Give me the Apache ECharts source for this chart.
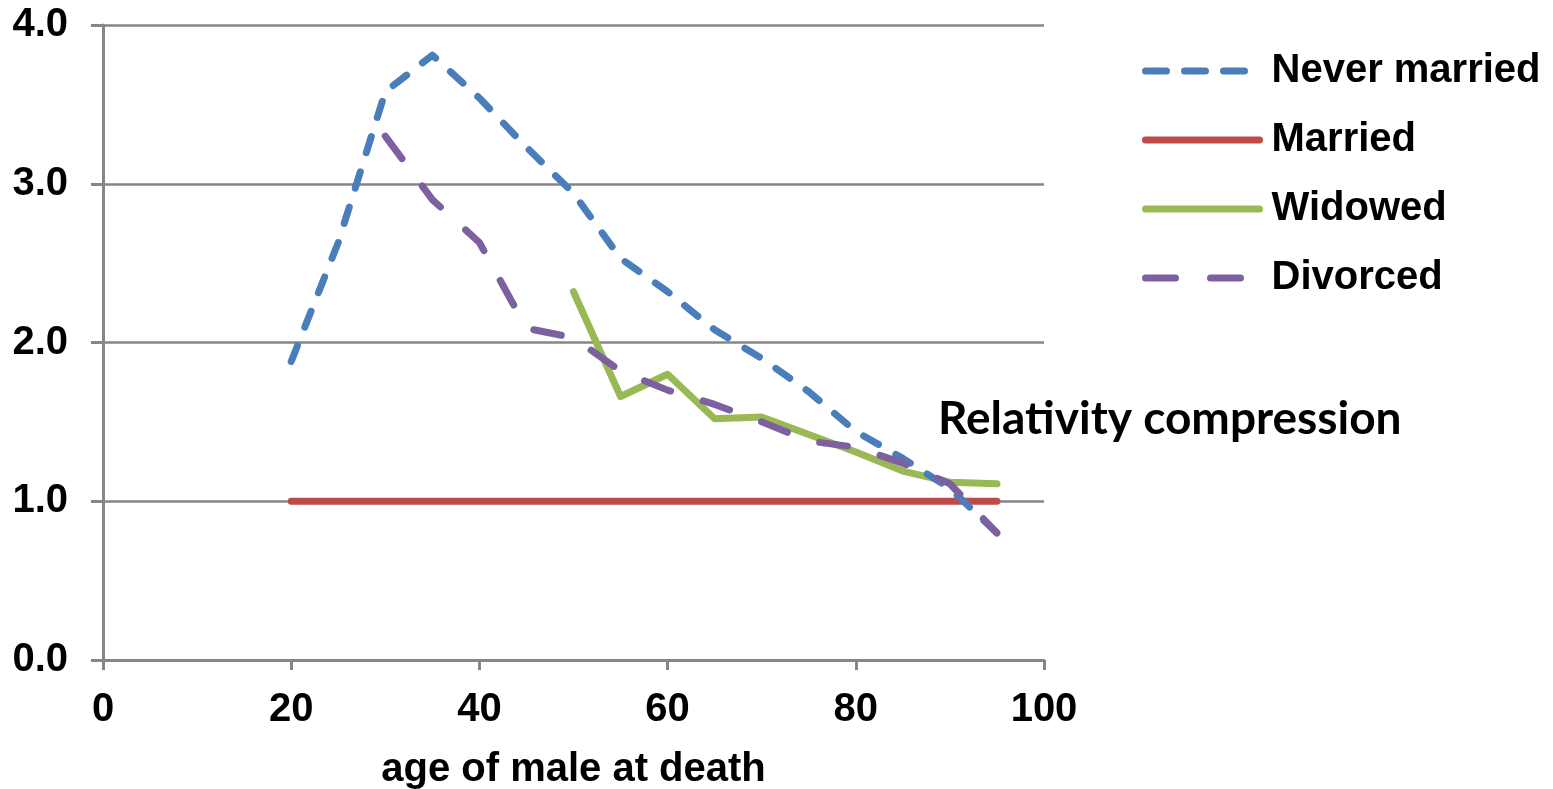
<!DOCTYPE html>
<html>
<head>
<meta charset="utf-8">
<title>Relativity compression</title>
<script src="https://cdn.jsdelivr.net/npm/echarts@6/dist/echarts.min.js"></script>
<style>
html, body { margin: 0; padding: 0; background: #ffffff; }
#main { width: 1553px; height: 789px; }
</style>
</head>
<body>
<div id="main"></div>
<script>
// ages (x values)
var ages = [20, 25, 30, 35, 40, 45, 50, 55, 60, 65, 70, 75, 80, 85, 90, 95];
var neverMarried = [1.88, 2.63, 3.58, 3.81, 3.54, 3.23, 2.94, 2.53, 2.32, 2.08, 1.90, 1.69, 1.44, 1.27, 1.08, 0.80];
var married = [1.0, 1.0, 1.0, 1.0, 1.0, 1.0, 1.0, 1.0, 1.0, 1.0, 1.0, 1.0, 1.0, 1.0, 1.0, 1.0];
var widowed = [null, null, null, null, null, null, 2.32, 1.66, 1.80, 1.52, 1.53, 1.42, 1.31, 1.19, 1.12, 1.11];
var divorced = [null, null, 3.30, 2.90, 2.63, 2.09, 2.03, 1.82, 1.70, 1.61, 1.50, 1.38, 1.34, 1.24, 1.11, 0.80];
var seriesNames = ['Never married', 'Married', 'Widowed', 'Divorced'];
var noteText = 'Relativity compression';

function toPairs(vals) {
	var out = [];
	for (var i = 0; i < ages.length; i++) {
		if (vals[i] != null) {
			out.push([ages[i], vals[i]]);
		}
	}
	return out;
}

var chart = echarts.init(document.getElementById('main'));
var labelFont = { fontFamily: 'Liberation Sans', fontWeight: 'bold', fontSize: 40, color: '#000000' };

var option = {
	animation: false,
	backgroundColor: '#ffffff',
	grid: { left: 103, right: 509, top: 25, bottom: 129, containLabel: false, outerBoundsMode: 'none' },
	legend: {
		orient: 'vertical',
		left: 1137,
		top: 46,
		itemWidth: 114,
		itemHeight: 20,
		itemGap: 29,
		itemTextGap: 14,
		itemStyle: { opacity: 0 },
		lineStyle: { width: 7, cap: 'round' },
		data: [
			{ name: seriesNames[0], lineStyle: { type: [21, 18] } },
			{ name: seriesNames[1] },
			{ name: seriesNames[2] },
			{ name: seriesNames[3], lineStyle: { type: [30, 35] } }
		],
		textStyle: { fontFamily: 'Liberation Sans', fontWeight: 'bold', fontSize: 40, color: '#000000', lineHeight: 40, padding: [0, 0, 0, 7] }
	},
	xAxis: {
		type: 'value',
		min: 0,
		max: 100,
		interval: 20,
		name: 'age of male at death',
		nameLocation: 'middle',
		nameGap: 90,
		nameTextStyle: labelFont,
		axisLine: { show: true, lineStyle: { color: '#868686', width: 3 } },
		axisTick: { show: true, length: 10, lineStyle: { color: '#868686', width: 3 } },
		axisLabel: { margin: 30, fontFamily: 'Liberation Sans', fontWeight: 'bold', fontSize: 40, color: '#000000' },
		splitLine: { show: false }
	},
	yAxis: {
		type: 'value',
		min: 0,
		max: 4,
		interval: 1,
		axisLine: { show: true, lineStyle: { color: '#868686', width: 3 } },
		axisTick: { show: true, length: 12, lineStyle: { color: '#868686', width: 3 } },
		axisLabel: {
			margin: 35,
			fontFamily: 'Liberation Sans', fontWeight: 'bold', fontSize: 40, color: '#000000',
			formatter: function(v) { return v.toFixed(1); }
		},
		splitLine: { show: true, lineStyle: { color: '#868686', width: 2.5 } }
	},
	series: [
		{
			name: 'Never married',
			type: 'line',
			data: toPairs(neverMarried),
			symbol: 'none',
			color: '#4A7EBB',
			lineStyle: { color: '#4A7EBB', width: 7, type: [17, 20], cap: 'round', join: 'round' },
			z: 4
		},
		{
			name: 'Married',
			type: 'line',
			data: toPairs(married),
			symbol: 'none',
			color: '#BE4B48',
			lineStyle: { color: '#BE4B48', width: 7, cap: 'round', join: 'round' },
			z: 3
		},
		{
			name: 'Widowed',
			type: 'line',
			data: toPairs(widowed),
			symbol: 'none',
			color: '#98B954',
			lineStyle: { color: '#98B954', width: 7, cap: 'round', join: 'round' },
			z: 3
		},
		{
			name: 'Divorced',
			type: 'line',
			data: toPairs(divorced),
			symbol: 'none',
			color: '#7D60A0',
			lineStyle: { color: '#7D60A0', width: 7, type: [28, 34], cap: 'round', join: 'round' },
			z: 5
		}
	],
	graphic: [{
		type: 'text',
		left: 938,
		top: 396,
		style: { text: noteText, fontFamily: 'Lato', fontWeight: 'bold', fontSize: 46, fill: '#000000' }
	}]
};

chart.setOption(option);
</script>
</body>
</html>
